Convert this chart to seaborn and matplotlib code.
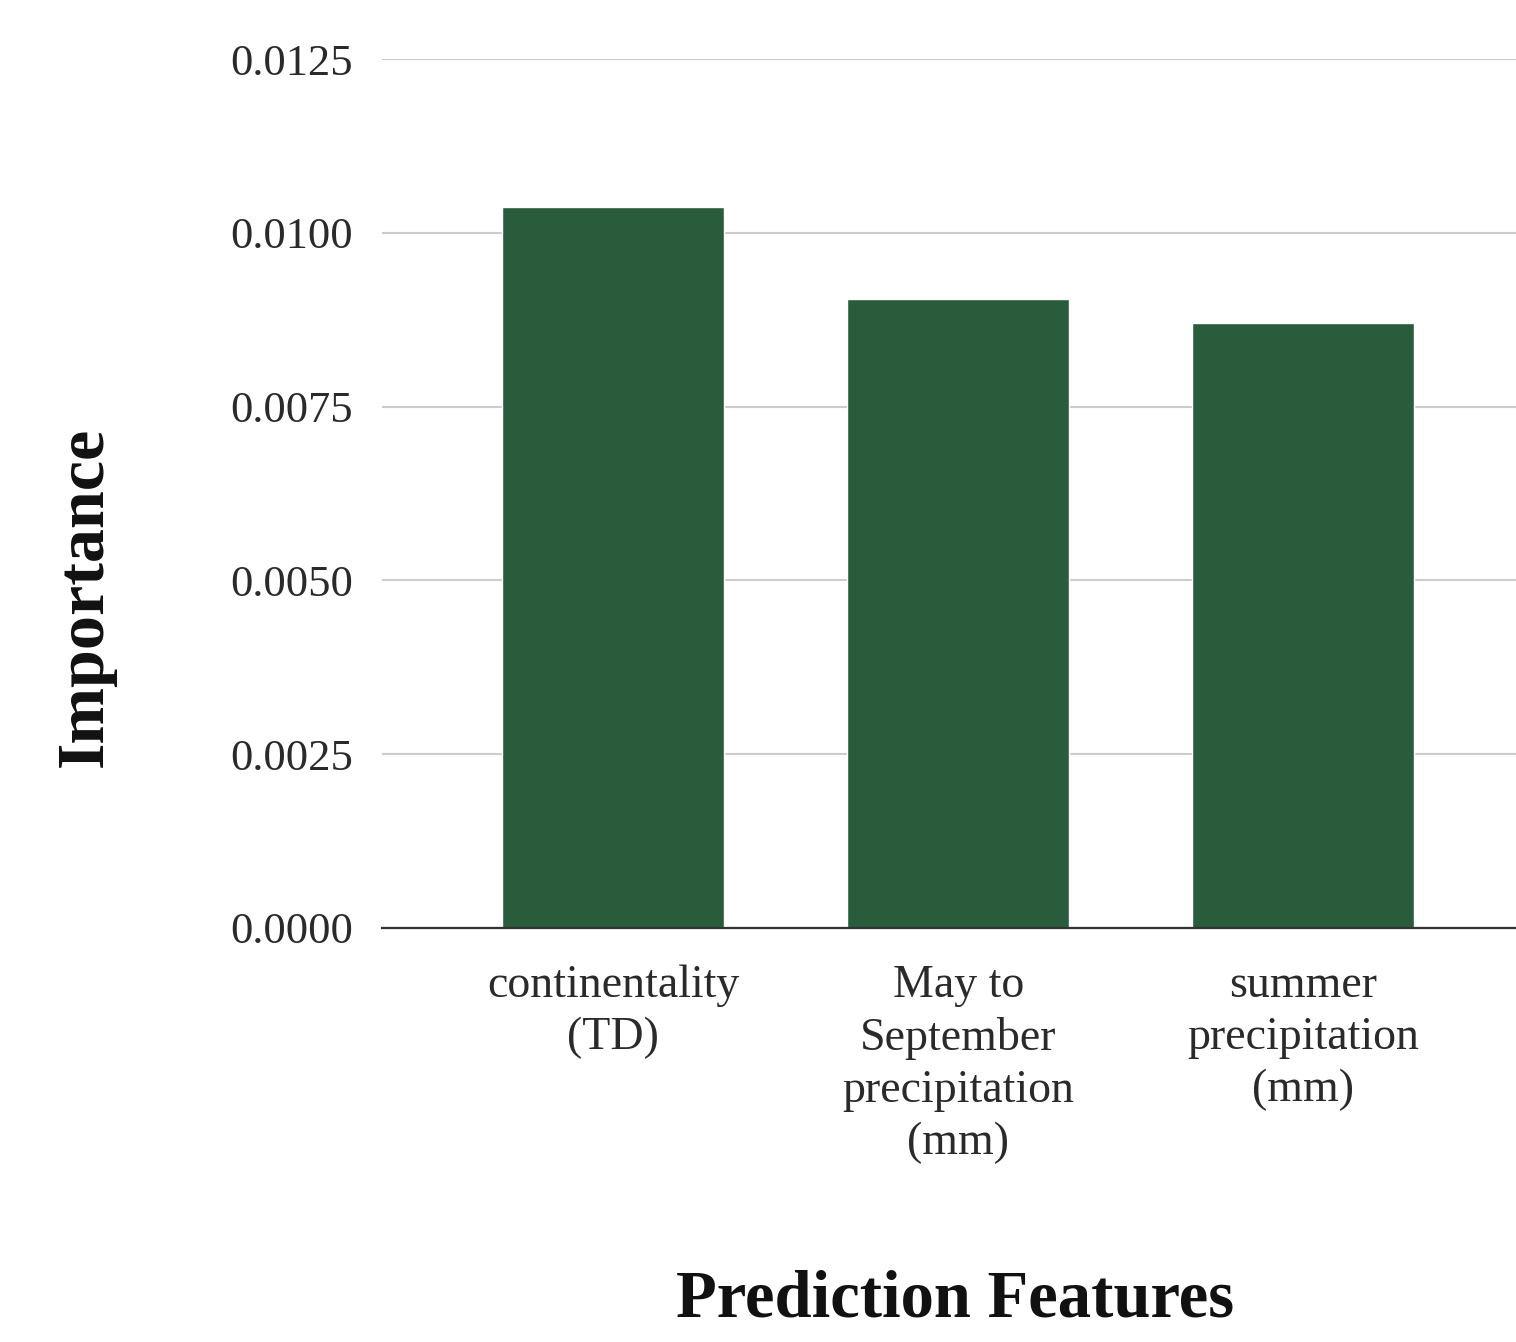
import pandas as pd
import matplotlib
matplotlib.use('Agg')
import matplotlib.pyplot as plt
import seaborn as sns

features = ['continentality\n(TD)', 'May to\nSeptember\nprecipitation\n(mm)', 'summer\nprecipitation\n(mm)']
importance = [0.01037, 0.00905, 0.00870]
y_ticks = [0.0, 0.0025, 0.005, 0.0075, 0.01, 0.0125]

sns.set_style('white')
plt.rcParams['font.family'] = ['Liberation Serif', 'DejaVu Serif']

df = pd.DataFrame({'feature': features, 'importance': importance})

fig = plt.figure(figsize=(15.16, 13.42), dpi=100)
ax = fig.add_axes([0.252, 0.3085, 0.748, 0.6475])
sns.barplot(data=df, x='feature', y='importance', color='#295c3b', width=0.644, saturation=1, ax=ax, zorder=3)

ax.set_ylim(0, 0.0125)
ax.set_xlim(-0.67, 2.617)
ax.set_yticks(y_ticks)
ax.set_yticklabels([f'{v:.4f}' for v in y_ticks])
ax.grid(axis='y', color='#cccccc', linewidth=1.5, zorder=0)
ax.set_axisbelow(True)
for s in ['top', 'right', 'left']:
    ax.spines[s].set_visible(False)
ax.spines['bottom'].set_color('#333333')
ax.spines['bottom'].set_linewidth(1.6)
ax.spines['bottom'].set_zorder(4)

ax.tick_params(axis='y', length=0, pad=21, labelsize=32, labelcolor='#2a2a2a')
ax.tick_params(axis='x', length=0, pad=26, labelsize=33, labelcolor='#2a2a2a')
for lbl in ax.get_xticklabels():
    lbl.set_linespacing(1.3)

ax.set_xlabel('Prediction Features', fontsize=48, fontweight='bold', va='center', color='#111111')
ax.xaxis.set_label_coords(0.505, -0.428)
ax.set_ylabel('Importance', fontsize=49, fontweight='bold', va='center', color='#111111')
ax.yaxis.set_label_coords(-0.262, 0.381)

plt.savefig('out.png', dpi=100)
